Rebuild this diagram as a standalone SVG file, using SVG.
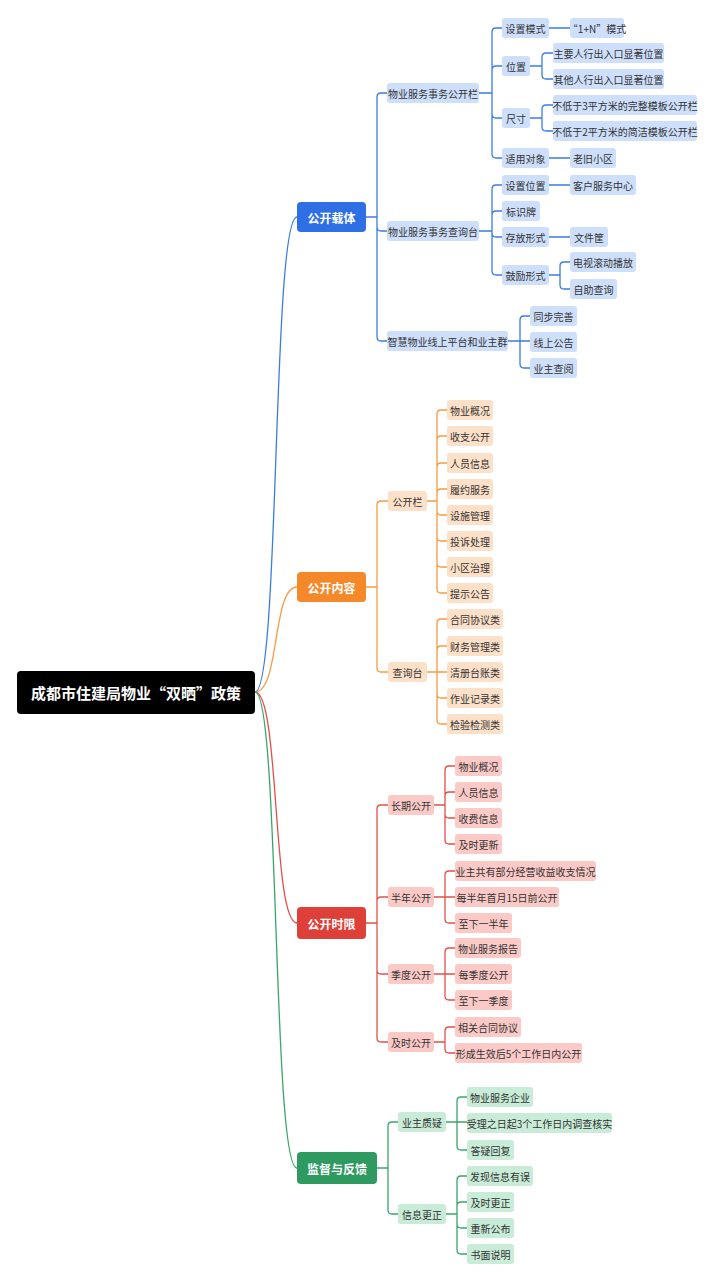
<svg xmlns="http://www.w3.org/2000/svg" width="714" height="1280" viewBox="0 0 714 1280">
<style>
text{font-family:"Noto Sans CJK SC","Liberation Sans",sans-serif;font-size:10px;fill:#333;text-anchor:middle;dominant-baseline:central}
.l1 text,.root text{fill:#fff;font-weight:bold;font-size:12px}
.root text{font-size:15px}
.c path{fill:none;stroke-width:1.3}
.b path{stroke:#3b7ddd}.o path{stroke:#f59a40}.r path{stroke:#e0504a}.g path{stroke:#3aa56a}
.bl rect{fill:#cddffb}.ol rect{fill:#fde0c8}.rl rect{fill:#fbcac7}.gl rect{fill:#c8ecd7}
</style>
<rect width="714" height="1280" fill="#fff"/>
<g id="connectors" class="c">
<path d="M255 692 C280 692 272 217 297 217" style="stroke:#3b7ddd"/>
<path d="M255 692 C280 692 272 587 297 587" style="stroke:#f59a40"/>
<path d="M255 692 C280 692 272 923 297 923" style="stroke:#e0504a"/>
<path d="M255 692 C280 692 272 1168 297 1168" style="stroke:#3aa56a"/>
<g class="b">
<path d="M366 217H377V97q0 -4 4 -4H387M366 217H377V227q0 4 4 4H387M366 217H377V337q0 4 4 4H387"/>
<path d="M479 93H492V32q0 -4 4 -4H502M479 93H492V70q0 -4 4 -4H502M479 93H492V114q0 4 4 4H502M479 93H492V154q0 4 4 4H502"/>
<path d="M549 28H570M549 158H570M549 185H570M549 237H570"/>
<path d="M530 66H542V57q0 -4 4 -4H553M530 66H542V75q0 4 4 4H553M530 118H542V109q0 -4 4 -4H553M530 118H542V127q0 4 4 4H553"/>
<path d="M479 231H492V189q0 -4 4 -4H502M479 231H492V215q0 -4 4 -4H502M479 231H492V233q0 4 4 4H502M479 231H492V271q0 4 4 4H502"/>
<path d="M549 275H560V266q0 -4 4 -4H570M549 275H560V285q0 4 4 4H570"/>
<path d="M508 341H520V320q0 -4 4 -4H530M508 341H530M508 341H520V364q0 4 4 4H530"/>
</g>
<g class="o">
<path d="M366 587H377V505q0 -4 4 -4H388M366 587H377V668q0 4 4 4H388"/>
<path d="M427 501H437V414q0 -4 4 -4H447M427 501H437V440q0 -4 4 -4H447M427 501H437V467q0 -4 4 -4H447M427 501H437V493q0 -4 4 -4H447M427 501H437V511q0 4 4 4H447M427 501H437V537q0 4 4 4H447M427 501H437V563q0 4 4 4H447M427 501H437V589q0 4 4 4H447"/>
<path d="M427 672H437V623q0 -4 4 -4H447M427 672H437V650q0 -4 4 -4H447M427 672H447M427 672H437V694q0 4 4 4H447M427 672H437V720q0 4 4 4H447"/>
</g>
<g class="r">
<path d="M366 923H377V809q0 -4 4 -4H388M366 923H377V901q0 -4 4 -4H388M366 923H377V970q0 4 4 4H388M366 923H377V1038q0 4 4 4H388"/>
<path d="M434 805H445V770q0 -4 4 -4H455M434 805H445V796q0 -4 4 -4H455M434 805H445V814q0 4 4 4H455M434 805H445V840q0 4 4 4H455"/>
<path d="M434 897H445V875q0 -4 4 -4H455M434 897H455M434 897H445V919q0 4 4 4H455"/>
<path d="M434 974H445V952q0 -4 4 -4H455M434 974H455M434 974H445V996q0 4 4 4H455"/>
<path d="M434 1042H445V1031q0 -4 4 -4H455M434 1042H445V1049q0 4 4 4H455"/>
</g>
<g class="g">
<path d="M377 1168H388V1126q0 -4 4 -4H398M377 1168H388V1210q0 4 4 4H398"/>
<path d="M446 1122H457V1101q0 -4 4 -4H467M446 1122H467M446 1122H457V1146q0 4 4 4H467"/>
<path d="M446 1214H457V1180q0 -4 4 -4H467M446 1214H457V1206q0 -4 4 -4H467M446 1214H457V1224q0 4 4 4H467M446 1214H457V1250q0 4 4 4H467"/>
</g>
</g>
<g id="root" class="root"><rect x="17" y="671" width="238" height="43" rx="4" fill="#000"/><text x="136" y="692.5">成都市住建局物业“双晒”政策</text></g>
<g class="l1">
<g id="n-zaiti"><rect x="297" y="202" width="69" height="30" rx="4" fill="#2f6fe6"/><text x="331.5" y="217">公开载体</text></g>
<g id="n-neirong"><rect x="297" y="572" width="69" height="30" rx="4" fill="#f5892a"/><text x="331.5" y="587">公开内容</text></g>
<g id="n-shixian"><rect x="297" y="907" width="69" height="32" rx="4" fill="#de3f38"/><text x="331.5" y="923">公开时限</text></g>
<g id="n-jiandu"><rect x="297" y="1152" width="80" height="32" rx="4" fill="#2f9a5f"/><text x="337" y="1168">监督与反馈</text></g>
</g>
<g class="bl">
<g id="b1"><rect x="387" y="83" width="92" height="20" rx="3"/><text x="433" y="93">物业服务事务公开栏</text></g>
<g id="b2"><rect x="387" y="221" width="92" height="20" rx="3"/><text x="433" y="231">物业服务事务查询台</text></g>
<g id="b3"><rect x="387" y="331" width="121" height="20" rx="3"/><text x="447.5" y="341">智慧物业线上平台和业主群</text></g>
<g id="b11"><rect x="502" y="18" width="47" height="20" rx="3"/><text x="525.5" y="28">设置模式</text></g>
<g id="b111"><rect x="570" y="18" width="54" height="20" rx="3"/><text x="597" y="28">“1+N”模式</text></g>
<g id="b12"><rect x="502" y="56" width="28" height="20" rx="3"/><text x="516" y="66">位置</text></g>
<g id="b121"><rect x="553" y="43" width="111" height="20" rx="3"/><text x="608.5" y="53">主要人行出入口显著位置</text></g>
<g id="b122"><rect x="553" y="69" width="111" height="20" rx="3"/><text x="608.5" y="79">其他人行出入口显著位置</text></g>
<g id="b13"><rect x="502" y="108" width="28" height="20" rx="3"/><text x="516" y="118">尺寸</text></g>
<g id="b131"><rect x="553" y="95" width="144" height="20" rx="3"/><text x="625" y="105">不低于3平方米的完整模板公开栏</text></g>
<g id="b132"><rect x="553" y="121" width="144" height="20" rx="3"/><text x="625" y="131">不低于2平方米的简洁模板公开栏</text></g>
<g id="b14"><rect x="502" y="148" width="47" height="20" rx="3"/><text x="525.5" y="158">适用对象</text></g>
<g id="b141"><rect x="570" y="148" width="46" height="20" rx="3"/><text x="593" y="158">老旧小区</text></g>
<g id="b21"><rect x="502" y="175" width="47" height="20" rx="3"/><text x="525.5" y="185">设置位置</text></g>
<g id="b211"><rect x="570" y="175" width="66" height="20" rx="3"/><text x="603" y="185">客户服务中心</text></g>
<g id="b22"><rect x="502" y="201" width="38" height="20" rx="3"/><text x="521" y="211">标识牌</text></g>
<g id="b23"><rect x="502" y="227" width="47" height="20" rx="3"/><text x="525.5" y="237">存放形式</text></g>
<g id="b231"><rect x="570" y="227" width="38" height="20" rx="3"/><text x="589" y="237">文件筐</text></g>
<g id="b24"><rect x="502" y="265" width="47" height="20" rx="3"/><text x="525.5" y="275">鼓励形式</text></g>
<g id="b241"><rect x="570" y="252" width="66" height="20" rx="3"/><text x="603" y="262">电视滚动播放</text></g>
<g id="b242"><rect x="570" y="279" width="47" height="20" rx="3"/><text x="593.5" y="289">自助查询</text></g>
<g id="b31"><rect x="530" y="306" width="47" height="20" rx="3"/><text x="553.5" y="316">同步完善</text></g>
<g id="b32"><rect x="530" y="332" width="47" height="20" rx="3"/><text x="553.5" y="342">线上公告</text></g>
<g id="b33"><rect x="530" y="358" width="47" height="20" rx="3"/><text x="553.5" y="368">业主查阅</text></g>
</g>
<g class="ol">
<g id="o1"><rect x="388" y="491" width="39" height="20" rx="3"/><text x="407.5" y="501">公开栏</text></g>
<g id="o2"><rect x="388" y="662" width="39" height="20" rx="3"/><text x="407.5" y="672">查询台</text></g>
<g id="o11"><rect x="447" y="400" width="46" height="20" rx="3"/><text x="470" y="410">物业概况</text></g>
<g id="o12"><rect x="447" y="426" width="46" height="20" rx="3"/><text x="470" y="436">收支公开</text></g>
<g id="o13"><rect x="447" y="453" width="46" height="20" rx="3"/><text x="470" y="463">人员信息</text></g>
<g id="o14"><rect x="447" y="479" width="46" height="20" rx="3"/><text x="470" y="489">履约服务</text></g>
<g id="o15"><rect x="447" y="505" width="46" height="20" rx="3"/><text x="470" y="515">设施管理</text></g>
<g id="o16"><rect x="447" y="531" width="46" height="20" rx="3"/><text x="470" y="541">投诉处理</text></g>
<g id="o17"><rect x="447" y="557" width="46" height="20" rx="3"/><text x="470" y="567">小区治理</text></g>
<g id="o18"><rect x="447" y="583" width="46" height="20" rx="3"/><text x="470" y="593">提示公告</text></g>
<g id="o21"><rect x="447" y="609" width="56" height="20" rx="3"/><text x="475" y="619">合同协议类</text></g>
<g id="o22"><rect x="447" y="636" width="56" height="20" rx="3"/><text x="475" y="646">财务管理类</text></g>
<g id="o23"><rect x="447" y="662" width="56" height="20" rx="3"/><text x="475" y="672">清册台账类</text></g>
<g id="o24"><rect x="447" y="688" width="56" height="20" rx="3"/><text x="475" y="698">作业记录类</text></g>
<g id="o25"><rect x="447" y="714" width="56" height="20" rx="3"/><text x="475" y="724">检验检测类</text></g>
</g>
<g class="rl">
<g id="r1"><rect x="388" y="795" width="46" height="20" rx="3"/><text x="411" y="805">长期公开</text></g>
<g id="r2"><rect x="388" y="887" width="46" height="20" rx="3"/><text x="411" y="897">半年公开</text></g>
<g id="r3"><rect x="388" y="964" width="46" height="20" rx="3"/><text x="411" y="974">季度公开</text></g>
<g id="r4"><rect x="388" y="1032" width="46" height="20" rx="3"/><text x="411" y="1042">及时公开</text></g>
<g id="r11"><rect x="455" y="756" width="47" height="20" rx="3"/><text x="478.5" y="766">物业概况</text></g>
<g id="r12"><rect x="455" y="782" width="47" height="20" rx="3"/><text x="478.5" y="792">人员信息</text></g>
<g id="r13"><rect x="455" y="808" width="47" height="20" rx="3"/><text x="478.5" y="818">收费信息</text></g>
<g id="r14"><rect x="455" y="834" width="47" height="20" rx="3"/><text x="478.5" y="844">及时更新</text></g>
<g id="r21"><rect x="455" y="861" width="141" height="20" rx="3"/><text x="525.5" y="871">业主共有部分经营收益收支情况</text></g>
<g id="r22"><rect x="455" y="887" width="104" height="20" rx="3"/><text x="507" y="897">每半年首月15日前公开</text></g>
<g id="r23"><rect x="455" y="913" width="57" height="20" rx="3"/><text x="483.5" y="923">至下一半年</text></g>
<g id="r31"><rect x="455" y="938" width="66" height="20" rx="3"/><text x="488" y="948">物业服务报告</text></g>
<g id="r32"><rect x="455" y="964" width="57" height="20" rx="3"/><text x="483.5" y="974">每季度公开</text></g>
<g id="r33"><rect x="455" y="990" width="57" height="20" rx="3"/><text x="483.5" y="1000">至下一季度</text></g>
<g id="r41"><rect x="455" y="1017" width="66" height="20" rx="3"/><text x="488" y="1027">相关合同协议</text></g>
<g id="r42"><rect x="455" y="1043" width="127" height="20" rx="3"/><text x="518.5" y="1053">形成生效后5个工作日内公开</text></g>
</g>
<g class="gl">
<g id="g1"><rect x="398" y="1112" width="48" height="20" rx="3"/><text x="422" y="1122">业主质疑</text></g>
<g id="g2"><rect x="398" y="1204" width="48" height="20" rx="3"/><text x="422" y="1214">信息更正</text></g>
<g id="g11"><rect x="467" y="1087" width="66" height="20" rx="3"/><text x="500" y="1097">物业服务企业</text></g>
<g id="g12"><rect x="467" y="1113" width="145" height="20" rx="3"/><text x="539.5" y="1123">受理之日起3个工作日内调查核实</text></g>
<g id="g13"><rect x="467" y="1140" width="47" height="20" rx="3"/><text x="490.5" y="1150">答疑回复</text></g>
<g id="g21"><rect x="467" y="1166" width="66" height="20" rx="3"/><text x="500" y="1176">发现信息有误</text></g>
<g id="g22"><rect x="467" y="1192" width="47" height="20" rx="3"/><text x="490.5" y="1202">及时更正</text></g>
<g id="g23"><rect x="467" y="1218" width="47" height="20" rx="3"/><text x="490.5" y="1228">重新公布</text></g>
<g id="g24"><rect x="467" y="1244" width="47" height="20" rx="3"/><text x="490.5" y="1254">书面说明</text></g>
</g>
</svg>
